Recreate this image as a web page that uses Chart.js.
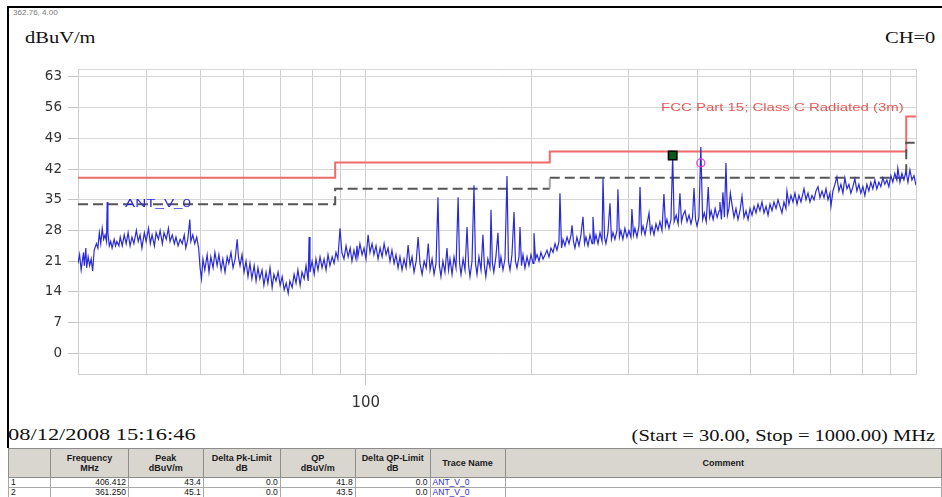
<!DOCTYPE html>
<html><head><meta charset="utf-8">
<script src="https://cdn.jsdelivr.net/npm/chart.js@4.4.1/dist/chart.umd.min.js"></script>
<style>
html,body{margin:0;padding:0;background:#fff;width:942px;height:497px;overflow:hidden;position:relative}
#wrap{position:absolute;left:0;top:0;width:942px;height:420px}
.t{position:absolute;white-space:nowrap;line-height:1}
.serif{font-family:"Liberation Serif","Times New Roman",serif;font-size:16px;color:#111}
.sx{transform:scaleX(1.28);transform-origin:left top}
.sxr{transform:scaleX(1.28);transform-origin:right top}
#tbl{position:absolute;left:8px;top:448px;border-collapse:collapse;table-layout:fixed;font-family:"Liberation Sans Narrow","Liberation Sans",Arial,sans-serif}
#tbl th{background:#d9d6d0;border:1px solid #8c8c8c;font-size:9px;font-weight:bold;color:#1a1a1a;height:28px;padding:0;line-height:10px}
#tbl td{border:1px solid #a8a8a8;font-size:8.5px;height:9px;padding:0 2px;line-height:9px;text-align:right;color:#111;overflow:hidden}
#tbl td.idx{text-align:left;background:#fff}
#tbl td.trace{text-align:left;color:#2a2ad6}
</style></head>
<body>
<div style="position:absolute;left:7px;top:6px;width:935px;height:2px;background:#000"></div>
<div style="position:absolute;left:7px;top:6px;width:2px;height:442px;background:#000"></div>
<div class="t" style="left:13px;top:9px;font-family:'Liberation Sans',Arial,sans-serif;font-size:7px;color:#777;transform:scaleX(1.15);transform-origin:left top">362.76, 4.00</div>
<div class="t serif sx" style="left:25px;top:30px">dBuV/m</div>
<div class="t serif sxr" style="right:7px;top:30px">CH=0</div>
<div id="wrap"><canvas id="c" width="942" height="420"></canvas></div>
<div class="t" style="left:661px;top:102px;font-family:'Liberation Sans',Arial,sans-serif;font-size:11px;color:#e85a5a;transform:scaleX(1.36);transform-origin:left top">FCC Part 15; Class C Radiated (3m)</div>
<div class="t" style="left:125px;top:197.5px;font-family:'Liberation Sans',Arial,sans-serif;font-size:10.5px;color:#2a2ad6;transform:scaleX(1.45);transform-origin:left top">ANT_V_0</div>
<div class="t serif" style="left:8px;top:427px;font-size:16.5px;transform:scaleX(1.36);transform-origin:left top">08/12/2008 15:16:46</div>
<div class="t serif sxr" style="right:7px;top:428px">(Start = 30.00, Stop = 1000.00) MHz</div>
<table id="tbl"></table>
<script>
// ---- data ----
const limitFreq   = [30, 88, 88, 216, 216, 960, 960, 1000];
const limitLevel  = [40, 40, 43.5, 43.5, 46, 46, 54, 54];
const marginLevel = [34, 34, 37.5, 37.5, 40, 40, 48, 48];
const yTicks = [0, 7, 14, 21, 28, 35, 42, 49, 56, 63];
const xGrid = [30, 40, 50, 60, 70, 80, 90, 100, 200, 300, 400, 500, 600, 700, 800, 900, 1000];
const xLabels = [100];
const markerFreq = [406.412, 361.25];
const markerPeak = [43.4, 45.1];
const rowFreq = ['406.412', '361.250'];
const rowPeak = ['43.4', '45.1'];
const rowDeltaPk = ['0.0', '0.0'];
const rowQP = ['41.8', '43.5'];
const rowDeltaQP = ['0.0', '0.0'];
const rowTrace = ['ANT_V_0', 'ANT_V_0'];
const headers = ['', 'Frequency<br>MHz', 'Peak<br>dBuV/m', 'Delta Pk-Limit<br>dB', 'QP<br>dBuV/m', 'Delta QP-Limit<br>dB', 'Trace Name', 'Comment'];
// trace: [frequency MHz, level dBuV/m]
const trace = [[30.0,20.5],[30.2,22.5],[30.4,19.0],[30.7,23.0],[30.8,20.0],[31.0,24.0],[31.1,19.5],[31.3,22.0],[31.5,20.0],[31.7,21.5],[31.9,18.8],[32.1,23.5],[32.4,25.0],[32.6,24.0],[32.8,27.5],[33.0,25.0],[33.2,28.5],[33.4,26.0],[33.6,27.0],[33.8,25.5],[33.9,34.5],[34.0,27.5],[34.2,24.5],[34.4,25.5],[34.6,24.0],[34.9,26.0],[35.1,24.5],[35.3,25.5],[35.6,24.5],
[35.8,26.5],[36.1,24.5],[36.4,27.0],[36.7,25.0],[37.0,27.5],[37.3,24.5],[37.6,26.5],[37.9,25.0],[38.3,28.0],[38.6,25.5],[38.9,27.0],[39.2,24.0],[39.6,27.5],[39.9,25.5],[40.3,28.5],[40.6,25.0],[40.9,27.0],[41.3,24.5],[41.6,27.5],[42.0,26.0],[42.3,28.0],[42.7,25.0],[43.0,27.5],[43.4,26.0],[43.8,28.5],[44.1,25.5],[44.5,27.0],[44.9,25.0],[45.2,26.5],[45.6,24.5],[46.0,26.0],[46.4,25.0],[46.8,27.0],[47.1,24.0],[47.5,26.0],[47.9,30.5],[48.1,25.5],[48.5,27.0],[48.9,25.0],[49.3,26.5],[49.7,24.0],
[50.0,19.5],[50.3,17.0],[50.6,21.5],[51.0,19.0],[51.5,22.5],[51.9,18.5],[52.3,22.0],[52.8,19.5],[53.2,23.0],[53.7,20.0],[54.1,22.5],[54.6,19.0],[55.0,21.5],[55.5,18.5],[56.0,22.0],[56.4,20.5],[56.9,23.0],[57.4,19.5],[57.9,21.5],[58.4,26.0],[58.7,22.0],[59.1,20.0],[59.6,22.5],[60.1,18.5],[60.6,21.0],[61.1,17.5],[61.6,20.5],[62.1,17.0],[62.7,20.0],[63.2,16.5],[63.7,19.5],[64.2,17.0],[64.8,19.0],[65.3,15.5],[65.9,18.5],[66.4,16.0],[67.0,19.5],[67.6,15.0],[68.1,18.0],[68.7,16.5],[69.3,18.5],[69.9,15.5],[70.5,17.5],[71.1,14.5],[71.7,16.0],[72.3,13.7],[72.8,16.5],[73.5,15.0],[74.1,18.0],[74.7,16.0],[75.3,19.0],[76.0,15.5],[76.6,18.5],[77.3,17.0],[77.9,20.0],[78.6,16.5],[78.9,26.5],[79.2,18.5],[79.9,21.0],[80.6,18.0],[81.2,21.5],[81.9,19.0],[82.6,22.0],[83.3,19.5],[84.0,21.5],[84.7,19.0],[85.4,22.5],[86.1,20.0],[86.9,22.0],[87.6,20.5],[88.3,23.0],[89.0,21.5],[89.8,28.5],[90.5,23.0],[91.3,21.5],[92.1,24.5],[92.9,22.0],[93.7,24.0],[94.4,21.0],[95.2,23.5],[96.0,21.5],[96.4,24.5],[96.8,22.0],[97.6,25.0],[98.5,22.5],[99.3,24.0],
[100.1,21.5],[101.0,27.0],[101.8,23.0],[102.7,25.0],[103.5,22.5],[104.4,24.5],[105.3,21.5],[106.2,24.0],[107.1,22.0],[108.0,25.0],[108.9,22.5],[109.8,24.0],[110.7,21.0],[111.6,23.5],[112.6,20.5],[113.5,22.5],[114.5,19.5],[115.4,22.0],[116.4,19.0],[117.4,21.5],[118.4,19.5],[119.4,24.7],[120.4,20.0],[121.4,22.0],[122.4,18.5],[123.5,21.0],[124.5,26.5],[125.5,20.5],[126.6,18.0],[127.7,21.0],[128.8,19.5],[129.9,25.0],[130.9,19.0],[132.0,21.5],[133.1,18.0],[134.2,20.5],[135.3,35.6],[136.1,20.0],[137.0,17.5],[138.1,21.0],[139.3,18.5],[140.5,24.0],[141.4,19.0],[142.3,21.5],[143.5,18.0],[144.7,22.0],[145.9,19.5],[147.2,35.6],[148.1,20.5],[149.0,18.0],[150.3,21.5],[151.5,19.0],[152.8,28.8],[153.8,20.0],[154.7,17.5],[156.0,21.0],[157.3,38.3],[158.3,20.5],[159.3,18.0],[160.6,22.0],[162.0,19.0],[163.3,27.0],[164.3,20.0],[165.3,17.5],[166.7,21.5],[168.2,19.5],[168.9,32.7],[169.9,20.5],[170.9,18.5],[172.4,22.0],[173.9,27.5],[175.0,19.5],[176.1,22.0],[177.6,19.0],[179.1,21.5],[180.6,40.4],[181.7,21.0],[182.9,19.0],[184.4,22.5],[186.0,32.2],[187.1,21.0],[188.3,19.5],[189.9,22.0],[190.7,28.8],[191.9,20.0],[193.1,22.5],[194.7,19.5],[196.4,22.0],[198.0,20.0],[199.7,22.5],
[201.4,20.5],[202.2,27.4],[203.5,21.5],[204.8,22.5],[206.5,21.0],[208.2,23.0],[210.0,21.5],[211.8,22.5],[213.5,23.5],[215.3,22.0],[217.1,24.0],[219.0,23.0],[220.8,25.0],[222.6,23.5],[224.5,25.5],[225.4,36.5],[226.9,24.0],[228.3,26.0],[230.2,24.5],[232.2,26.5],[234.1,25.0],[236.1,27.0],[237.1,29.2],[238.5,25.5],[240.0,24.0],[242.0,26.5],[244.1,24.5],[246.1,27.0],[248.2,31.1],[249.8,25.0],[251.3,26.5],[253.5,24.5],[255.6,27.0],[257.8,25.0],[258.8,31.1],[260.5,25.5],[262.1,27.0],[264.3,25.0],[266.5,27.5],[268.8,25.5],[269.9,39.9],[271.6,26.5],[273.2,25.0],[275.5,27.5],[277.9,34.2],[279.6,26.0],[281.4,27.5],[283.7,26.0],[286.1,28.0],[287.3,37.4],[289.1,26.5],[290.9,28.0],[293.3,26.0],[295.8,28.5],[298.3,26.5],
[300.8,28.0],[303.4,26.5],[304.6,32.9],[306.6,27.0],[308.5,28.5],[311.1,26.5],[313.7,29.0],[315.1,37.9],[317.1,27.5],[319.1,29.0],[321.8,27.0],[324.5,29.5],[327.2,32.0],[329.2,27.5],[331.3,29.0],[334.1,27.0],[336.9,29.5],[339.7,28.0],[342.5,30.0],[345.4,28.0],[348.3,36.3],[350.5,29.0],[352.7,30.5],[355.7,28.5],[358.7,30.5],[361.25,45.1],[363.5,30.0],[366.6,31.5],[369.6,29.5],[372.4,36.5],[374.8,30.0],[377.2,31.5],[380.4,32.5],[383.6,30.0],[386.8,31.5],[390.0,29.5],[392.5,31.0],[395.0,37.7],[397.5,30.5],[400.0,29.0],[403.2,31.0],[406.412,47.0],[409.5,30.5],[412.3,32.0],[415.7,30.0],[419.2,37.9],[421.7,31.0],[424.3,32.5],[427.9,30.5],[431.5,33.0],[435.1,31.0],[438.8,32.5],[440.2,34.5],[443.0,30.5],[445.8,36.7],[448.6,31.0],[451.5,43.4],[454.3,31.5],[457.1,33.0],[459.9,36.5],[462.9,34.0],[466.9,31.0],[470.8,33.0],[474.8,30.5],[478.8,32.5],[482.8,35.8],[486.9,31.0],[491.0,32.5],[495.2,30.5],[499.3,33.0],
[503.5,31.5],[507.7,33.5],[512.0,32.0],[516.3,34.0],[520.5,32.5],[525.0,34.5],[529.4,32.0],[533.9,33.5],[538.4,31.5],[542.8,34.0],[547.4,32.5],[552.0,34.5],[556.7,33.0],[561.4,35.0],[566.0,33.5],[570.7,32.0],[575.5,34.5],[580.3,33.0],[582.7,37.0],[587.6,34.0],[592.6,36.0],[597.6,34.5],[602.6,36.5],[607.8,34.0],[612.8,36.0],[618.0,34.5],[623.2,36.5],[625.8,37.5],[631.1,35.0],[636.4,36.5],[641.7,34.5],[647.1,36.0],[652.6,35.0],[658.0,37.0],[663.6,38.0],[669.2,35.5],[674.8,37.0],[680.5,35.5],[686.2,37.5],[692.0,35.0],[697.6,36.5],[700.5,33.5],[706.4,37.0],[712.3,38.5],[718.2,40.2],[724.3,37.0],[730.4,38.5],[736.5,36.5],[742.7,40.0],[749.0,37.5],[755.2,38.5],[761.6,36.5],[768.0,38.0],[774.4,39.8],[780.9,37.0],[787.4,38.5],[794.0,36.5],
[800.7,38.0],[807.4,36.0],[814.2,38.5],[821.0,37.0],[827.9,39.0],[834.8,37.5],[841.8,39.5],[848.9,37.5],[856.0,39.0],[863.2,38.0],[870.4,40.0],[877.7,38.5],[885.1,39.5],[892.6,38.0],[900.1,40.5],[907.6,39.0],[915.2,41.0],[922.9,39.5],[926.8,42.2],[935.0,39.0],[942.8,41.0],[950.7,39.5],[958.7,41.5],[966.8,39.0],[974.9,41.8],[983.1,39.5],[991.4,40.5],[1000,38.3]];

// ---- table ----
(function(){
  const widths = [42, 78, 75, 77, 75, 75, 75, 437];
  const tbl = document.getElementById('tbl');
  const cg = document.createElement('colgroup');
  widths.forEach(w => { const c = document.createElement('col'); c.style.width = w + 'px'; cg.appendChild(c); });
  tbl.appendChild(cg);
  const hr = document.createElement('tr');
  headers.forEach(h => { const th = document.createElement('th'); th.innerHTML = h; hr.appendChild(th); });
  tbl.appendChild(hr);
  rowFreq.forEach((f, i) => {
    const tr = document.createElement('tr');
    const cells = [[String(i + 1), 'idx'], [f, ''], [rowPeak[i], ''], [rowDeltaPk[i], ''], [rowQP[i], ''], [rowDeltaQP[i], ''], [rowTrace[i], 'trace'], ['', '']];
    cells.forEach(([v, cls]) => { const td = document.createElement('td'); td.textContent = v; if (cls) td.className = cls; tr.appendChild(td); });
    tbl.appendChild(tr);
  });
})();

// ---- chart ----
const T = 'rgba(0,0,0,0)';
new Chart(document.getElementById('c'), {
  type: 'line',
  data: {
    datasets: [
      {
        label: 'markers',
        data: markerFreq.map((f, i) => ({x: f, y: markerPeak[i]})),
        showLine: false,
        pointStyle: ['circle', 'rect'],
        pointRadius: [4, 6],
        pointBackgroundColor: [T, '#0c5a18'],
        pointBorderColor: ['#e03ce0', '#000'],
        pointBorderWidth: [1.3, 1.5],
        order: 0
      },
      {
        label: 'ANT_V_0',
        data: trace.map(p => ({x: p[0], y: p[1]})),
        borderColor: '#2a2ad6',
        borderWidth: 1.2,
        pointRadius: 0,
        order: 1
      },
      {
        label: 'margin',
        data: limitFreq.map((f, i) => ({x: f, y: marginLevel[i]})),
        borderColor: '#555',
        borderWidth: 2,
        borderDash: [10, 5],
        pointRadius: 0,
        segment: {
          borderColor: c => (c.p0.parsed.x >= 216 && c.p1.parsed.x < 960) ? '#a3a3a3' : '#555'
        },
        order: 2
      },
      {
        label: 'limit',
        data: limitFreq.map((f, i) => ({x: f, y: limitLevel[i]})),
        borderColor: '#f06a6a',
        borderWidth: 2,
        pointRadius: 0,
        order: 3
      }
    ]
  },
  options: {
    responsive: false,
    animation: false,
    events: [],
    layout: {padding: {left: 8, top: 69, right: 26, bottom: 6}},
    plugins: {legend: {display: false}, tooltip: {enabled: false}},
    scales: {
      x: {
        type: 'logarithmic',
        min: 30, max: 1000,
        afterBuildTicks: s => { s.ticks = xGrid.map(v => ({value: v})); },
        afterFit: s => { s.height = 40; },
        grid: {
          color: '#cfcfcf', lineWidth: 1, tickLength: 11,
          tickColor: c => (c.tick && xLabels.includes(c.tick.value)) ? '#c4c4c4' : T
        },
        border: {display: true, color: '#cfcfcf'},
        ticks: {
          autoSkip: false, maxRotation: 0, padding: 9,
          color: '#333', font: {family: 'DejaVu Sans', size: 15},
          callback: v => xLabels.includes(v) ? String(v) : ''
        }
      },
      y: {
        type: 'linear',
        min: -4.7, max: 64.8,
        afterBuildTicks: s => { s.ticks = yTicks.concat([64.8]).map(v => ({value: v})); },
        afterFit: s => { s.width = 70; },
        grid: {
          color: '#d6d6d6', lineWidth: 1, tickLength: 10,
          tickColor: c => (c.tick && yTicks.includes(c.tick.value)) ? '#c4c4c4' : T
        },
        border: {display: true, color: '#cfcfcf'},
        ticks: {
          padding: 6, color: '#333', font: {family: 'DejaVu Sans', size: 13.5},
          callback: v => yTicks.includes(v) ? String(v) : ''
        }
      }
    }
  }
});
</script>
</body></html>
